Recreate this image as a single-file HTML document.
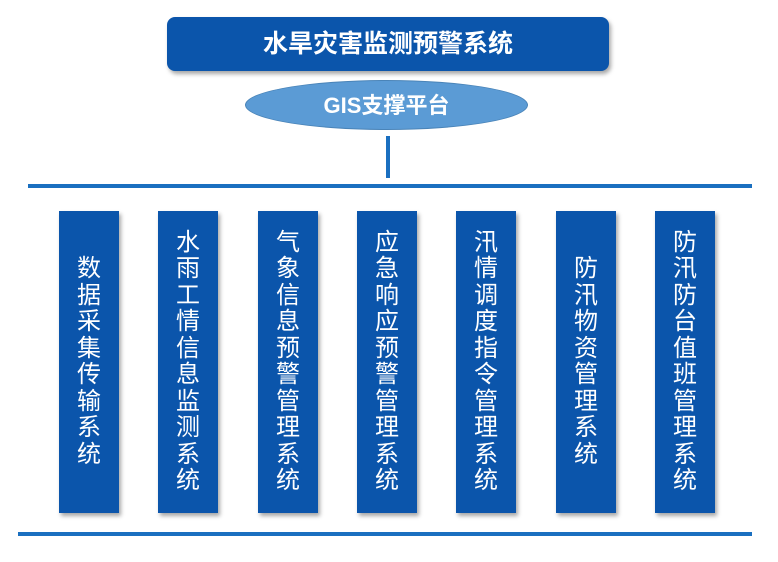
<!DOCTYPE html>
<html><head><meta charset="utf-8"><style>
body{margin:0;width:778px;height:562px;background:#fff;position:relative;overflow:hidden;font-family:"Liberation Sans","Noto Sans CJK SC",sans-serif}
.top{position:absolute;left:167px;top:17px;width:442px;height:54px;background:#0b55ab;border-radius:8px;box-shadow:2px 3px 4px rgba(0,0,0,.35);color:#fff;font-size:25px;font-weight:bold;text-align:center;line-height:54px}
.ell{position:absolute;left:245px;top:80px;width:283px;height:50px;border-radius:50%;background:#5b9bd5;border:1px solid #4a84b8;color:#fff;font-size:22px;font-weight:bold;text-align:center;line-height:50px;box-sizing:border-box}
.ln{position:absolute;background:#1a6fc0}
.col{position:absolute;top:211px;width:60px;height:302px;background:#0b55ab;box-shadow:2px 3px 4px rgba(0,0,0,.35);color:#fff;font-size:24px;display:flex;align-items:center;justify-content:center;text-align:center;line-height:26.5px}
</style></head><body>
<div class="top">水旱灾害监测预警系统</div>
<div class="ell">GIS支撑平台</div>
<div class="ln" style="left:386px;top:136px;width:4px;height:42px"></div>
<div class="ln" style="left:28px;top:184px;width:724px;height:4px"></div>
<div class="ln" style="left:18px;top:532px;width:734px;height:4px"></div>
<div class="col" style="left:59px"><div>数<br>据<br>采<br>集<br>传<br>输<br>系<br>统</div></div>
<div class="col" style="left:158px"><div>水<br>雨<br>工<br>情<br>信<br>息<br>监<br>测<br>系<br>统</div></div>
<div class="col" style="left:258px"><div>气<br>象<br>信<br>息<br>预<br>警<br>管<br>理<br>系<br>统</div></div>
<div class="col" style="left:357px"><div>应<br>急<br>响<br>应<br>预<br>警<br>管<br>理<br>系<br>统</div></div>
<div class="col" style="left:456px"><div>汛<br>情<br>调<br>度<br>指<br>令<br>管<br>理<br>系<br>统</div></div>
<div class="col" style="left:556px"><div>防<br>汛<br>物<br>资<br>管<br>理<br>系<br>统</div></div>
<div class="col" style="left:655px"><div>防<br>汛<br>防<br>台<br>值<br>班<br>管<br>理<br>系<br>统</div></div>
</body></html>
